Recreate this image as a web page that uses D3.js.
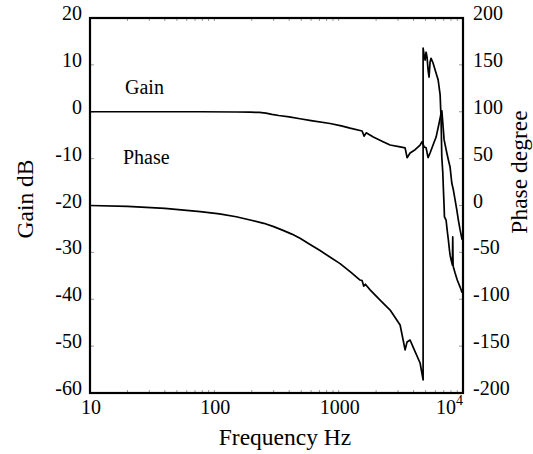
<html lang="en">
<head>
  <meta charset="UTF-8"/>
  <title>Gain and phase</title>
  <script src="https://d3js.org/d3.v7.min.js"></script>
  <style>
    body { margin: 0; background: #fff; }
    svg { display: block; }
  </style>
</head>
<body>
  <svg id="chart" width="533" height="454"></svg>

<script>
// gain curve
const gainFreq = [10, 30, 77, 150, 194, 230, 260, 290, 330, 400, 489, 600, 853, 1050, 1236, 1543, 1603, 1664, 1900, 2275, 2593, 3120, 3422, 3550, 3753, 4120, 4518, 4690, 4866, 5049, 5238, 5434, 5743, 6078, 6428, 6668, 6760, 7050, 7413, 7629, 7873, 8123, 8370, 8636, 8909, 9176, 9477, 9842];
const gainDb = [0, 0, 0, -0.05, -0.1, -0.15, -0.3, -0.55, -0.8, -1.1, -1.5, -1.9, -2.5, -3.0, -3.5, -4.1, -5.2, -4.5, -5.4, -6.4, -7.1, -7.5, -7.7, -9.8, -8.8, -8.1, -7.1, -6.4, -7.5, -7.7, -9.8, -8.8, -7.1, -5.4, -2.4, -0.3, 0.2, -6.0, -8.8, -10.3, -11.8, -15.2, -16.7, -18.8, -20.9, -23.1, -25.2, -27.3];

// phase curve (wraps from -186 to +168 near 4.8 kHz)
const phaseFreq = [10, 20, 40, 77, 110, 150, 194, 250, 300, 357, 420, 489, 580, 708, 850, 1026, 1250, 1486, 1543, 1590, 1640, 1790, 2154, 2593, 3120, 3300, 3422, 3550, 3753, 3970, 4518, 4777, 4777, 4866, 4957, 5049, 5142, 5238, 5335, 5434, 5534, 5743, 6078, 6310, 6548, 6668, 6750, 6880, 6960, 7050, 7090, 7310, 7413, 7500, 7629, 7780, 7873, 8020, 8220, 8270, 8320, 8370, 8636, 8990, 9477, 9842];
const phaseDeg = [0, -1, -3, -6.5, -9, -12, -15.5, -19, -22.5, -26.5, -30.5, -35, -41, -48, -55, -62, -71, -79.5, -80, -86, -84, -90, -101, -111.5, -127.5, -143.5, -154, -145.5, -143.5, -151, -168, -186, 168, 160.5, 155, 163.5, 158, 144.5, 137, 153, 157, 152, 141, 134, 118, 91, 52, 35, 16.5, -1.5, -12, -15.5, -23, -29, -37, -47.5, -53, -58, -63.5, -33.5, -63.5, -65.5, -72, -79.5, -87, -93];

const gainTicks = [20, 10, 0, -10, -20, -30, -40, -50, -60];
const phaseTicks = [200, 150, 100, 50, 0, -50, -100, -150, -200];
const freqTicks = [10, 100, 1000, 10000];
const freqLabels = ['10', '100', '1000', '10'];

const plotLeft = 90, plotRight = 463, plotTop = 18, plotBottom = 393;
const serif = 'Liberation Serif';

const svg = d3.select('#chart');

const x = d3.scaleLog().domain([10, 10000]).range([plotLeft, plotRight]);
const yGain = d3.scaleLinear().domain([-60, 20]).range([plotBottom, plotTop]);
const yPhase = d3.scaleLinear().domain([-200, 200]).range([plotBottom, plotTop]);

// small inward ticks
const minorFreqs = x.ticks().filter(f => f > 10 && f < 10000);
const ticks = svg.append('g').attr('stroke', '#999').attr('stroke-width', 1);
ticks.append('g').selectAll('line')
  .data(minorFreqs).join('line')
  .attr('x1', d => x(d)).attr('x2', d => x(d))
  .attr('y1', plotBottom).attr('y2', plotBottom - 3);
ticks.append('g').selectAll('line')
  .data(minorFreqs).join('line')
  .attr('x1', d => x(d)).attr('x2', d => x(d))
  .attr('y1', plotTop).attr('y2', plotTop + 3);
ticks.append('g').selectAll('line')
  .data(gainTicks).join('line')
  .attr('x1', plotLeft).attr('x2', plotLeft + 4)
  .attr('y1', d => yGain(d)).attr('y2', d => yGain(d));
ticks.append('g').selectAll('line')
  .data(phaseTicks).join('line')
  .attr('x1', plotRight).attr('x2', plotRight - 4)
  .attr('y1', d => yPhase(d)).attr('y2', d => yPhase(d));

// curves
const gainLine = d3.line()
  .x((d, i) => x(gainFreq[i]))
  .y(d => yGain(d));
const phaseLine = d3.line()
  .x((d, i) => x(phaseFreq[i]))
  .y(d => yPhase(d));

svg.selectAll('path.curve')
  .data([gainLine(gainDb), phaseLine(phaseDeg)])
  .join('path')
  .attr('class', 'curve')
  .attr('fill', 'none')
  .attr('stroke', '#000')
  .attr('stroke-width', 1.7)
  .attr('stroke-linejoin', 'round')
  .attr('d', d => d);

// frame
svg.append('rect')
  .attr('fill', 'none').attr('stroke', '#000').attr('stroke-width', 2.2)
  .attr('x', plotLeft).attr('y', plotTop)
  .attr('width', plotRight - plotLeft).attr('height', plotBottom - plotTop);

function label(sel, size) {
  return sel.attr('font-family', serif).attr('font-size', size).attr('fill', '#000');
}

// left tick labels
svg.append('g').selectAll('text')
  .data(gainTicks).join('text')
  .call(label, 20)
  .attr('text-anchor', 'end')
  .attr('x', plotLeft - 8)
  .attr('y', d => yGain(d) + 2)
  .text(d => d);

// right tick labels
svg.append('g').selectAll('text')
  .data(phaseTicks).join('text')
  .call(label, 20)
  .attr('text-anchor', 'start')
  .attr('x', plotRight + 10)
  .attr('y', d => yPhase(d) + 2)
  .text(d => d);

// bottom tick labels
const fl = svg.append('g').selectAll('text')
  .data(freqTicks).join('text')
  .call(label, 20)
  .attr('text-anchor', (d, i) => i === 3 ? 'end' : 'middle')
  .attr('x', (d, i) => i === 3 ? x(d) : x(d) + 1)
  .attr('y', 414)
  .text((d, i) => freqLabels[i]);
fl.filter((d, i) => i === 3)
  .append('tspan')
  .attr('dy', -9)
  .attr('font-size', 14)
  .text('4');

// axis titles
svg.append('text').call(label, 23.5)
  .attr('text-anchor', 'middle')
  .attr('x', 285).attr('y', 445)
  .text('Frequency Hz');
svg.append('text').call(label, 23.5)
  .attr('text-anchor', 'middle')
  .attr('transform', 'translate(33,199) rotate(-90)')
  .text('Gain dB');
svg.append('text').call(label, 23.5)
  .attr('text-anchor', 'middle')
  .attr('transform', 'translate(527,172) rotate(-90)')
  .text('Phase degree');

// curve labels
svg.append('text').call(label, 20)
  .attr('x', 125).attr('y', 94).text('Gain');
svg.append('text').call(label, 20)
  .attr('x', 123).attr('y', 164).text('Phase');
</script>
</body>
</html>
